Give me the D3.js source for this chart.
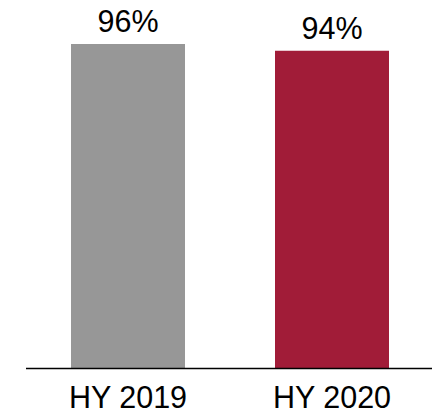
<!DOCTYPE html>
<html>
<head>
<meta charset="utf-8">
<script src="https://cdn.jsdelivr.net/npm/d3@7"></script>
<style>
  html, body { margin: 0; padding: 0; background: #fff; }
  svg { display: block; }
  text { font-family: "Liberation Sans", Arial, sans-serif; fill: #000; }
</style>
</head>
<body>
<svg id="chart" width="432" height="413"></svg>
<script>
// Share of target reached, by half-year
const categories = ["HY 2019", "HY 2020"];
const values = [96, 94];
const barColors = ["#979797", "#A11C38"];

const svg = d3.select("#chart");
const baseline = 368;

const x = d3.scaleBand()
  .domain(categories)
  .range([26, 434])
  .paddingInner(90 / 204)
  .paddingOuter(45 / 204);

const y = d3.scaleLinear().domain([0, 100]).range([baseline, 30.5]);

svg.selectAll("rect.bar")
  .data(values)
  .join("rect")
  .attr("class", "bar")
  .attr("x", (d, i) => x(categories[i]))
  .attr("y", d => y(d))
  .attr("width", x.bandwidth())
  .attr("height", d => y(0) - y(d))
  .attr("fill", (d, i) => barColors[i]);

// baseline axis line
svg.append("line")
  .attr("x1", 26).attr("x2", 432)
  .attr("y1", baseline + 0.5).attr("y2", baseline + 0.5)
  .attr("stroke", "#000").attr("stroke-width", 1.5);

// value labels above bars
svg.selectAll("text.val")
  .data(values)
  .join("text")
  .attr("class", "val")
  .attr("x", (d, i) => x(categories[i]) + x.bandwidth() / 2)
  .attr("y", d => y(d) - 12)
  .attr("text-anchor", "middle")
  .attr("font-size", 30.5)
  .text(d => d + "%");

// category labels under the baseline
svg.selectAll("text.cat")
  .data(categories)
  .join("text")
  .attr("class", "cat")
  .attr("x", c => x(c) + x.bandwidth() / 2)
  .attr("y", 408)
  .attr("text-anchor", "middle")
  .attr("font-size", 30.5)
  .text(c => c);
</script>
</body>
</html>
